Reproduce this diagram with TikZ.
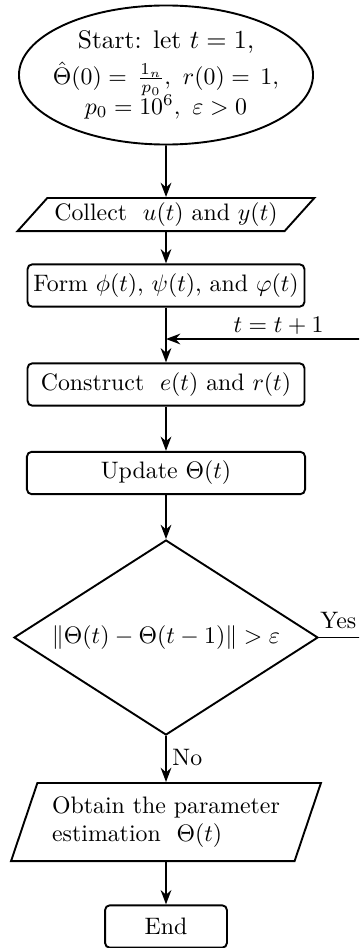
\documentclass[tikz,border=0pt]{standalone}
\usepackage{amsmath, amssymb}
\usetikzlibrary{arrows.meta,shapes.geometric}

\tikzset{
  terminal/.style={draw, thick, ellipse, minimum width=123.5pt, minimum height=58.4pt, inner xsep=-4pt, inner ysep=0pt, align=center},
  procbox/.style={draw, thick, rounded corners=2pt, minimum height=17.8pt, inner sep=2pt},
  iobox/.style={draw, thick, trapezium, trapezium stretches=true, inner sep=1pt, align=left},
  decision/.style={draw, thick, diamond, aspect=1.56, minimum width=127.7pt, minimum height=81.9pt, inner sep=0pt},
  flow/.style={thick, -{Stealth[length=6pt,width=4.5pt]}},
}

\begin{document}
\begin{tikzpicture}[x=0.42pt, y=-0.42pt]
% Page frame, the feedback loop runs off the right side
\clip (0,0) rectangle (359,948);

% Main column of steps
\node[terminal] (start) at (166,75) {\fontsize{10.7}{12.8}\selectfont Start: let $t=1$,\\[3pt]
  $\hat{\Theta}(0)=\,\frac{1_n}{p_0},\ r(0)=\,1,$\\[-1.5pt]
  $p_0=10^6,\ \varepsilon>0$};
\node[iobox, trapezium left angle=45, trapezium right angle=135,
  minimum width=124.7pt, minimum height=13.9pt] (collect) at (166,214.5)
  {Collect\ \ $u(t)$ and $y(t)$};
\node[procbox, minimum width=116.3pt] (form) at (166,285.5)
  {Form $\phi(t)$, $\psi(t)$, and $\varphi(t)$};
\node[procbox, minimum width=116.3pt] (construct) at (166,384.5)
  {Construct\ \ $e(t)$ and $r(t)$};
\node[procbox, minimum width=116.8pt] (update) at (166,473) {Update $\Theta(t)$};
\node[decision] (check) at (166,637.5) {$\|\Theta(t)-\Theta(t-1)\|>\varepsilon$};
\node[iobox, trapezium left angle=67, trapezium right angle=113,
  minimum width=130.2pt, minimum height=32.8pt] (obtain) at (166,822)
  {Obtain the parameter\\estimation\ \ $\Theta(t)$};
\node[procbox, minimum width=51.2pt] (stop) at (166,926.5) {End};

% Merge point and loop corner
\coordinate (merge) at (166,339);
\coordinate (back) at (400,637.5);

% Arrows down the column
\draw[flow] (start) -- (collect);
\draw[flow] (collect) -- (form);
\draw[flow] (form) -- (construct);
\draw[flow] (construct) -- (update);
\draw[flow] (update) -- (check);
\draw[flow] (check) -- (obtain);
\draw[flow] (obtain) -- (stop);

% Feedback loop
\draw[flow] (check.east) -- (back) |- (merge);

% Labels
\node[anchor=base west, inner sep=0pt] (yes) at (320,628) {Yes};
\node[anchor=base, inner sep=0pt] (incr) at (278.5,332) {$t=t+1$};
\node[anchor=base west, inner sep=0pt] (no) at (172,765) {No};
\end{tikzpicture}
\end{document}
